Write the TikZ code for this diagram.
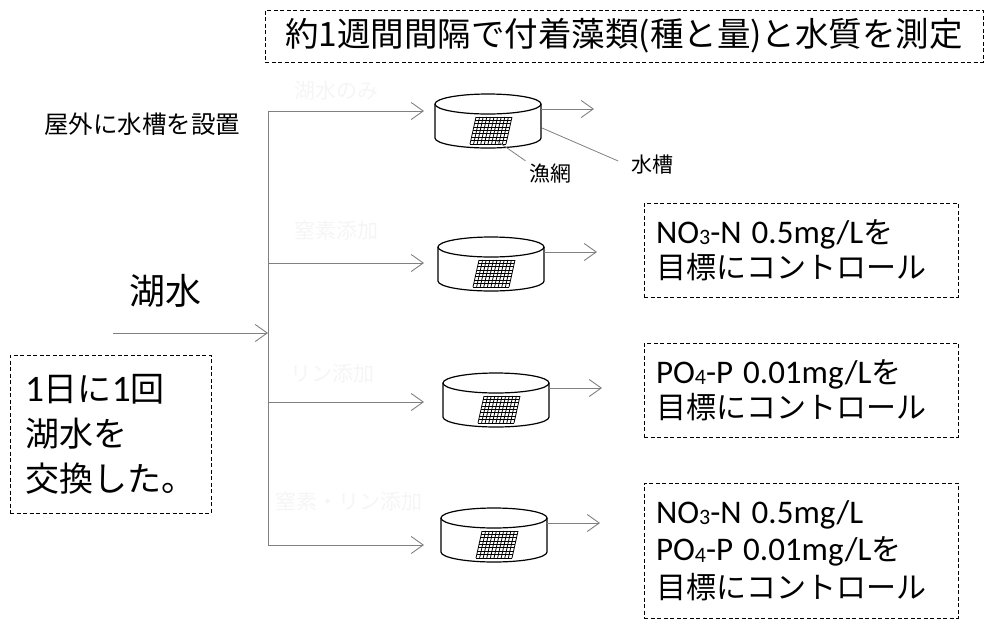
\documentclass[tikz,border=0pt]{standalone}
\usepackage{fontspec}
\setmainfont{Noto Sans CJK JP}
\newfontfamily\lat[Scale=1.1]{Carlito}
\usetikzlibrary{arrows.meta}
\definecolor{gris}{gray}{0.5}
\definecolor{tenue}{gray}{0.96}
\newcommand{\bajo}[1]{\raisebox{-1.5pt}{\fontsize{20}{20}\selectfont #1}}

\begin{document}
\begin{tikzpicture}[x=1pt, y=-1pt,
    flujo/.style={draw=gris, line width=0.9pt, -{Straight Barb[length=12pt,width=17pt]}},
    linea/.style={draw=gris, line width=0.9pt},
    guia/.style={draw=gris, line width=0.8pt},
    caja/.style={draw, line width=0.9pt, dash pattern=on 4pt off 2.5pt, align=left},
    rotulo/.style={font=\fontsize{21}{24}\selectfont},
    tenue/.style={text=tenue, font=\fontsize{21}{24}\selectfont},
    tanque/.pic={
        \draw[line width=1.2pt] (-53,0) -- (-53,34) arc[start angle=180, end angle=0, x radius=53, y radius=10] -- (53,0);
        \draw[line width=1.2pt] (0,0) ellipse[x radius=53, y radius=10];
        % red de pesca
        \foreach \k in {0,...,10}
            \draw[line width=0.8pt] (-18+3.6*\k,40) -- (-12+3.6*\k,13);
        \foreach \k in {0,...,8}
            \draw[line width=0.8pt] (-12-0.75*\k,13+3.375*\k) -- (24-0.75*\k,13+3.375*\k);
        \coordinate (-e) at (53,5);
        \coordinate (-o) at (106,5);
        \coordinate (-n) at (9,37);
        \coordinate (-s) at (54,24);
    }]
    \useasboundingbox (0,0) rectangle (991,622);

    \node[caja, minimum width=718pt, minimum height=52pt, font=\fontsize{33.5}{36}\selectfont] (medir) at (624,36) {約1週間間隔で付着藻類(種と量)と水質を測定};

    \node[font=\fontsize{24.5}{28}\selectfont] (exterior) at (142,124) {屋外に水槽を設置};
    \node[font=\fontsize{36}{40}\selectfont] (lago) at (165,291) {湖水};

    % entrada y reparto
    \coordinate (ent) at (113,333);
    \coordinate (rep) at (268,333);
    \draw[flujo] (ent) -- (rep);
    \foreach \i/\y in {1/111,2/263,3/402,4/545} {
        \coordinate (b\i) at (268,\y);
        \coordinate (a\i) at (424,\y);
        \draw[flujo] (b\i) -- (a\i);
    }
    \draw[linea] (b1) -- (b4);

    \pic (t1) at (488,104) {tanque};
    \pic (t2) at (491,247) {tanque};
    \pic (t3) at (496,383) {tanque};
    \pic (t4) at (494,518) {tanque};
    \foreach \i in {1,...,4}
        \draw[flujo] (t\i-e) -- (t\i-o);

    \node[tenue] (solo) at (336,91) {湖水のみ};
    \node[tenue] (nadd) at (336,231) {窒素添加};
    \node[tenue] (padd) at (332,374) {リン添加};
    \node[tenue] (npadd) at (349,502) {窒素・リン添加};

    \node[rotulo] (red) at (550,174) {漁網};
    \node[rotulo] (cuba) at (652,165) {水槽};
    \draw[guia] (t1-n) -- (red.north west);
    \draw[guia, shorten >=10pt] (t1-s) -- (cuba.west);

    \node[caja, text width=290pt, inner xsep=12pt, minimum height=94pt, font=\fontsize{30}{35}\selectfont] (nitro) at (801,250)
        {{\lat NO\bajo{3}-N 0.5mg/L}を\\目標にコントロール};
    \node[caja, text width=290pt, inner xsep=12pt, minimum height=94pt, font=\fontsize{30}{35}\selectfont] (fosfo) at (801,390)
        {{\lat PO\bajo{4}-P 0.01mg/L}を\\目標にコントロール};
    \node[caja, text width=290pt, inner xsep=12pt, minimum height=135pt, font=\fontsize{30}{37.5}\selectfont] (ambos) at (801,550.5)
        {{\lat NO\bajo{3}-N 0.5mg/L}\\{\lat PO\bajo{4}-P 0.01mg/L}を\\目標にコントロール};

    \node[caja, text width=171pt, inner xsep=15pt, minimum height=158pt, font=\fontsize{34}{45}\selectfont] (cambio) at (110.5,434)
        {{\lat 1}日に{\lat 1}回\\湖水を\\交換した。};
\end{tikzpicture}
\end{document}
